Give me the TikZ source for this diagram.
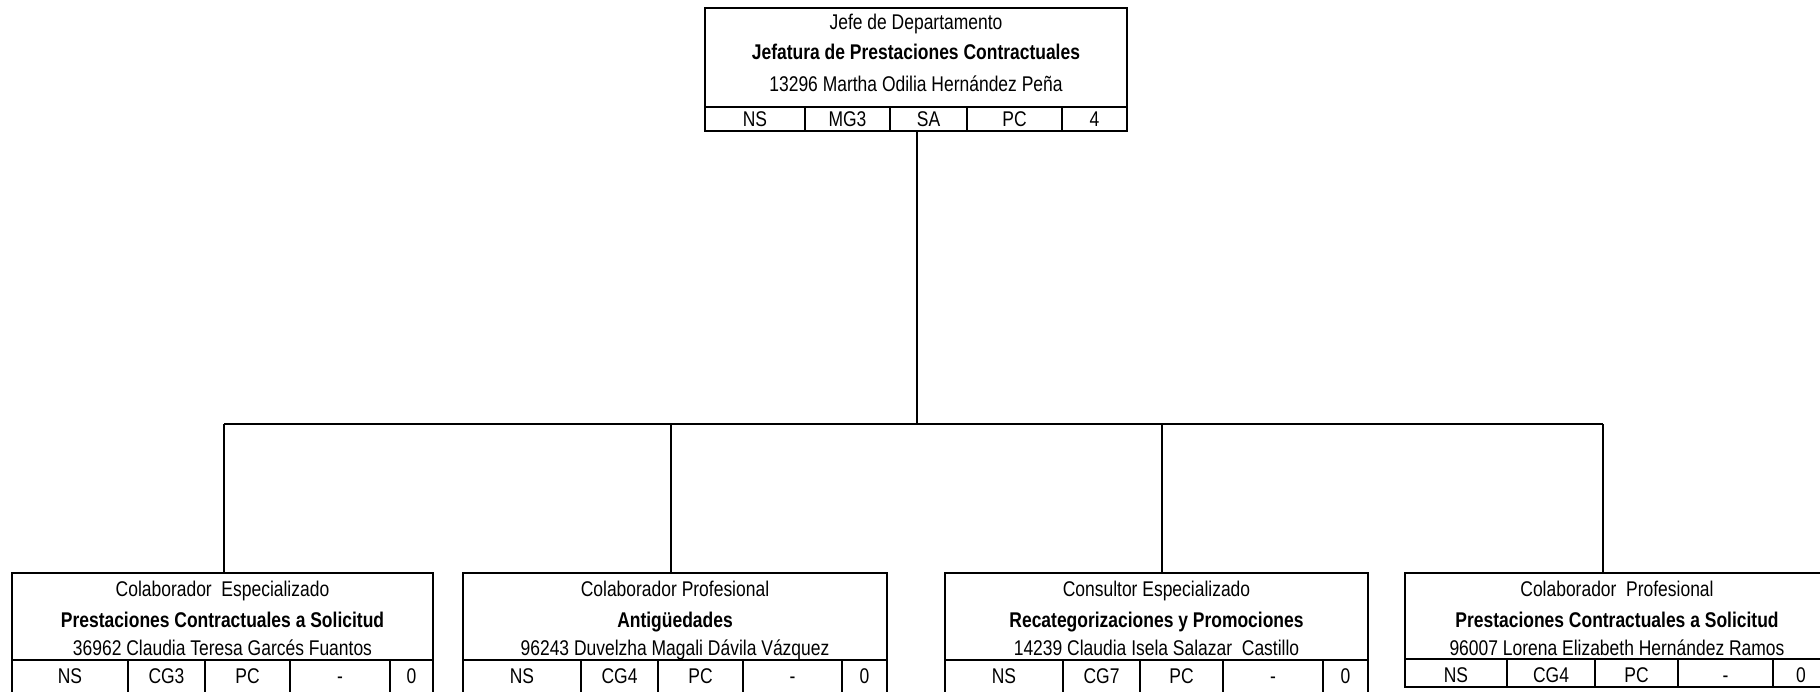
\documentclass[tikz,border=0pt]{standalone}
\usepackage{fontspec}
\setmainfont[FakeStretch=0.82]{Liberation Sans}
\begin{document}
\begin{tikzpicture}[x=1pt,y=-1pt,
  every node/.style={font=\fontsize{21.3}{25}\selectfont},
  boxn/.style={draw, line width=1.8pt, inner sep=0pt, outer sep=0pt, anchor=north west},
  rule/.style={line width=1.8pt},
  link/.style={line width=1.6pt},
  t/.style={anchor=base, inner sep=0pt},
  tb/.style={t, font=\fontsize{21.3}{25}\selectfont\bfseries}]
\useasboundingbox (0,0) rectangle (1820,692);
\clip (0,0) rectangle (1820,692);

% ---------- top box ----------
\node[boxn, minimum width=422pt, minimum height=123pt] (jefe) at (705,8) {};
\draw[rule] (705,107) -- (1127,107);
\foreach \x in {805,890,967,1062} \draw[rule] (\x,107) -- (\x,131);
\node[t]  (j1) at (916,30)  {Jefe de Departamento};
\node[tb] (j2) at (916,60)  {Jefatura de Prestaciones Contractuales};
\node[t]  (j3) at (916,92)  {13296 Martha Odilia Hernández Peña};
\node[t] (jc1) at (755,127)    {NS};
\node[t] (jc2) at (847.5,127)  {MG3};
\node[t] (jc3) at (928.5,127)  {SA};
\node[t] (jc4) at (1014.5,127) {PC};
\node[t] (jc5) at (1094.5,127) {4};

% ---------- child boxes ----------
% box 1
\node[boxn, minimum width=421pt, minimum height=130pt] (c1) at (12,573) {};
\draw[rule] (12,660) -- (433,660);
\foreach \x in {128,205,290,390} \draw[rule] (\x,660) -- (\x,705);
\node[t]  (c1a) at (222.5,596) {Colaborador\ \ Especializado};
\node[tb] (c1b) at (222.5,627) {Prestaciones Contractuales a Solicitud};
\node[t]  (c1c) at (222.5,655) {36962 Claudia Teresa Garcés Fuantos};
\node[t] (c1d) at (70,683)    {NS};
\node[t] (c1e) at (166.5,683) {CG3};
\node[t] (c1f) at (247.5,683) {PC};
\node[t] (c1g) at (340,683)   {-};
\node[t] (c1h) at (411.5,683) {0};

% box 2
\node[boxn, minimum width=424pt, minimum height=130pt] (c2) at (463,573) {};
\draw[rule] (463,660) -- (887,660);
\foreach \x in {581,658,743,842} \draw[rule] (\x,660) -- (\x,705);
\node[t]  (c2a) at (675,596) {Colaborador Profesional};
\node[tb] (c2b) at (675,627) {Antigüedades};
\node[t]  (c2c) at (675,655) {96243 Duvelzha Magali Dávila Vázquez};
\node[t] (c2d) at (522,683)   {NS};
\node[t] (c2e) at (619.5,683) {CG4};
\node[t] (c2f) at (700.5,683) {PC};
\node[t] (c2g) at (792.5,683) {-};
\node[t] (c2h) at (864.5,683) {0};

% box 3
\node[boxn, minimum width=423pt, minimum height=130pt] (c3) at (945,573) {};
\draw[rule] (945,660) -- (1368,660);
\foreach \x in {1063,1140,1223,1323} \draw[rule] (\x,660) -- (\x,705);
\node[t]  (c3a) at (1156.5,596) {Consultor Especializado};
\node[tb] (c3b) at (1156.5,627) {Recategorizaciones y Promociones};
\node[t]  (c3c) at (1156.5,655) {14239 Claudia Isela Salazar\ \ Castillo};
\node[t] (c3d) at (1004,683)   {NS};
\node[t] (c3e) at (1101.5,683) {CG7};
\node[t] (c3f) at (1181.5,683) {PC};
\node[t] (c3g) at (1273,683)   {-};
\node[t] (c3h) at (1345.5,683) {0};

% box 4
\node[boxn, minimum width=424pt, minimum height=114pt] (c4) at (1405,573) {};
\draw[rule] (1405,659) -- (1829,659);
\foreach \x in {1507,1595,1678,1773} \draw[rule] (\x,659) -- (\x,687);
\node[t]  (c4a) at (1617,596) {Colaborador\ \ Profesional};
\node[tb] (c4b) at (1617,627) {Prestaciones Contractuales a Solicitud};
\node[t]  (c4c) at (1617,655) {96007 Lorena Elizabeth Hernández Ramos};
\node[t] (c4d) at (1456,682)   {NS};
\node[t] (c4e) at (1551,682)   {CG4};
\node[t] (c4f) at (1636.5,682) {PC};
\node[t] (c4g) at (1725.5,682) {-};
\node[t] (c4h) at (1801,682)   {0};

% ---------- connectors ----------
\coordinate (j0) at (917,424);
\coordinate (k1) at (224,424);
\coordinate (k2) at (671,424);
\coordinate (k3) at (1162,424);
\coordinate (k4) at (1603,424);
\draw[link] (jefe.south -| j0) -- (j0);
\draw[link] (k1) -- (k4);
\draw[link] (k1) -- (k1 |- c1.north);
\draw[link] (k2) -- (k2 |- c2.north);
\draw[link] (k3) -- (k3 |- c3.north);
\draw[link] (k4) -- (k4 |- c4.north);
\end{tikzpicture}
\end{document}
